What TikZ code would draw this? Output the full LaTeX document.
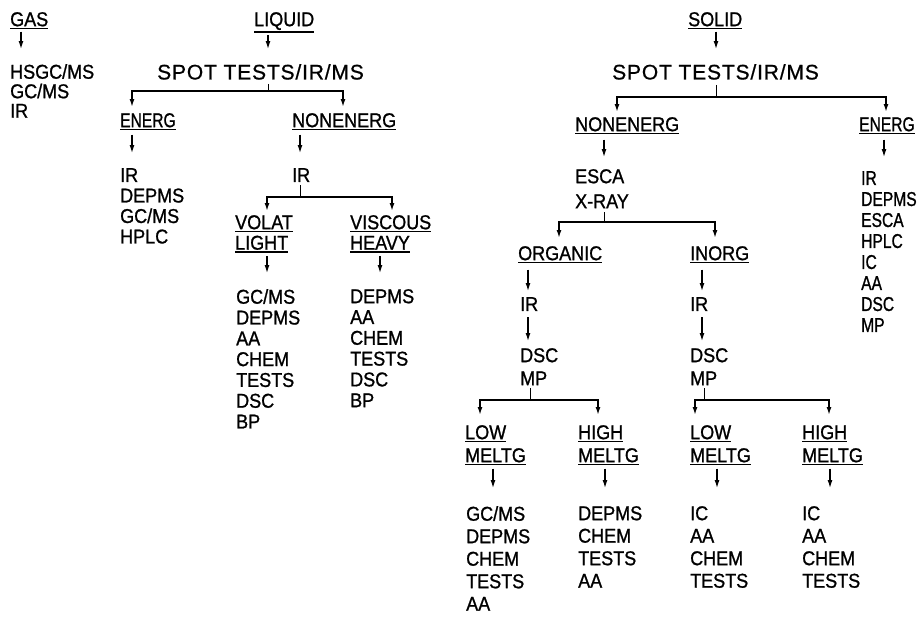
\documentclass[tikz,border=0pt]{standalone}
\usepackage{fontspec}
\setmainfont{Liberation Sans}[FakeStretch=0.9, FakeBold=1]
\newfontfamily\narrowfont{Liberation Sans}[FakeStretch=0.78, FakeBold=1]
\newfontfamily\spotfont{Liberation Sans}[LetterSpace=4, FakeBold=0.8]
\usetikzlibrary{arrows.meta, positioning, calc}
\newcommand{\uh}[1]{\leavevmode\vtop{\hbox{#1}\kern1.5pt\hrule height1.6pt}}
\tikzset{
  txt/.style={anchor=north west, inner sep=0pt, align=left,
    font=\fontsize{20}{#1}\selectfont},
  txt/.default=20.5,
  spot/.style={txt, font=\spotfont\fontsize{21}{25}\selectfont},
  arr/.style={-{Latex[length=8pt,width=5pt]}, line width=1.2pt},
  fork/.style={arr, line width=1.5pt},
  tick/.style={line width=0.9pt}
}
\begin{document}
\begin{tikzpicture}[x=1pt, y=-1pt]
  \useasboundingbox (0,0) rectangle (921,624);

  % ── Gas ──────────────────────────────────────────────────────────
  \node[txt] (gas) at (10,12) {\uh{GAS}};
  \node[txt=19.5] (gasl) at (10,64) {HSGC/MS\\GC/MS\\IR};
  \draw[arr] ([xshift=11pt,yshift=-2pt]gas.south west)
    -- ([xshift=11pt,yshift=15pt]gasl.north west);

  % ── Liquid ───────────────────────────────────────────────────────
  \coordinate (liqfork)  at (268,91);
  \coordinate (liqnfork) at (300,197);
  \node[txt] (liquid) at (254,12) {\uh{LIQUID}};
  \node[spot] (liqspot) at (157,64) {SPOT TESTS/IR/MS};
  \node[txt] (liqenerg) at (120,113) {\narrowfont\uh{ENERG}};
  \node[txt] (liqnon)   at (292,113) {\uh{NONENERG}};
  \node[txt] (liqenergl) at (120,168) {IR\\DEPMS\\GC/MS\\HPLC};
  \node[txt] (liqnonir) at (292,168) {IR};
  \node[txt] (liqvol) at (235,215) {\uh{VOLAT}\\\uh{LIGHT}};
  \node[txt] (liqvis) at (350,215) {\uh{VISCOUS}\\\uh{HEAVY}};
  \node[txt=20.8] (liqvoll) at (236,289)
    {GC/MS\\DEPMS\\AA\\CHEM\\TESTS\\DSC\\BP};
  \node[txt=20.8] (liqvisl) at (350,289)
    {DEPMS\\AA\\CHEM\\TESTS\\DSC\\BP};

  \draw[arr] ([yshift=-2pt]liquid.south -| liqfork)
    -- ([yshift=15pt]liqspot.north -| liqfork);
  \draw[tick] ([yshift=-4pt]liqspot.south -| liqfork) -- (liqfork);
  \draw[fork] (liqfork) -| ([xshift=12pt,yshift=6pt]liqenerg.north west);
  \draw[fork] (liqfork) -| ([xshift=51pt,yshift=6pt]liqnon.north west);
  \draw[arr] ([xshift=12pt,yshift=-4pt]liqenerg.south west)
    -- ([xshift=12pt,yshift=15pt]liqenergl.north west);
  \draw[arr] ([xshift=8pt,yshift=-4pt]liqnon.south west)
    -- ([xshift=8pt,yshift=15pt]liqnonir.north west);
  \draw[tick] ([yshift=-3pt]liqnonir.south -| liqnfork) -- (liqnfork);
  \draw[fork] (liqnfork) -| ([xshift=32pt,yshift=4pt]liqvol.north west);
  \draw[fork] (liqnfork) -| ([xshift=42pt,yshift=4pt]liqvis.north west);
  \draw[arr] ([xshift=32pt,yshift=-3pt]liqvol.south west)
    -- ([xshift=31pt,yshift=16pt]liqvoll.north west);
  \draw[arr] ([xshift=30pt,yshift=-3pt]liqvis.south west)
    -- ([xshift=30pt,yshift=16pt]liqvisl.north west);

  % ── Solid ────────────────────────────────────────────────────────
  \coordinate (solfork)  at (716,97);
  \coordinate (solnfork) at (604,222);
  \coordinate (orgfork)  at (530,400);
  \coordinate (inofork)  at (704,400);
  \node[txt] (solid) at (688,12) {\uh{SOLID}};
  \node[spot] (solspot) at (612,64) {SPOT TESTS/IR/MS};
  \node[txt] (solnon)   at (575,117) {\uh{NONENERG}};
  \node[txt] (solenerg) at (859,117) {\narrowfont\uh{ENERG}};
  \node[txt=25] (solesca) at (575,169) {ESCA\\X-RAY};
  \node[txt=21, font=\narrowfont\fontsize{20}{21}\selectfont] (solenergl)
    at (861,171) {IR\\DEPMS\\ESCA\\HPLC\\IC\\AA\\DSC\\MP};
  \node[txt] (solorg) at (518,246) {\uh{ORGANIC}};
  \node[txt] (solino) at (690,246) {\uh{INORG}};
  \node[txt] (orgir) at (520,297) {IR};
  \node[txt] (inoir) at (690,297) {IR};
  \node[txt=23] (orgdsc) at (520,348) {DSC\\MP};
  \node[txt=23] (inodsc) at (690,348) {DSC\\MP};
  \node[txt=23] (orglow)  at (465,425) {\uh{LOW}\\\uh{MELTG}};
  \node[txt=23] (orghigh) at (578,425) {\uh{HIGH}\\\uh{MELTG}};
  \node[txt=23] (inolow)  at (690,425) {\uh{LOW}\\\uh{MELTG}};
  \node[txt=23] (inohigh) at (802,425) {\uh{HIGH}\\\uh{MELTG}};
  \node[txt=22.5] (orglowl)  at (466,506) {GC/MS\\DEPMS\\CHEM\\TESTS\\AA};
  \node[txt=22.5] (orghighl) at (578,506) {DEPMS\\CHEM\\TESTS\\AA};
  \node[txt=22.5] (inolowl)  at (690,506) {IC\\AA\\CHEM\\TESTS};
  \node[txt=22.5] (inohighl) at (802,506) {IC\\AA\\CHEM\\TESTS};

  \draw[arr] ([yshift=-2pt]solid.south -| solfork)
    -- ([yshift=15pt]solspot.north -| solfork);
  \draw[tick] ([yshift=-5pt]solspot.south -| solfork) -- (solfork);
  \draw[fork] (solfork) -| ([xshift=42pt,yshift=5pt]solnon.north west);
  \draw[fork] (solfork) -| ([xshift=27pt,yshift=5pt]solenerg.north west);
  \draw[arr] ([xshift=29pt,yshift=-5pt]solnon.south west)
    -- ([xshift=29pt,yshift=12pt]solesca.north west);
  \draw[arr] ([xshift=25pt,yshift=-5pt]solenerg.south west)
    -- ([xshift=23pt,yshift=14pt]solenergl.north west);
  \draw[tick] ([yshift=-4pt]solesca.south -| solnfork) -- (solnfork);
  \draw[fork] (solnfork) -| ([xshift=41pt,yshift=8pt]solorg.north west);
  \draw[fork] (solnfork) -| ([xshift=25pt,yshift=8pt]solino.north west);

  % organic / inorganic chains
  \draw[arr] ([xshift=10pt,yshift=-6pt]solorg.south west)
    -- ([xshift=8pt,yshift=6pt]orgir.north west);
  \draw[arr] ([xshift=12pt,yshift=-6pt]solino.south west)
    -- ([xshift=12pt,yshift=6pt]inoir.north west);
  \draw[arr] ([xshift=8pt,yshift=-6pt]orgir.south west)
    -- ([xshift=8pt,yshift=7pt]orgdsc.north west);
  \draw[arr] ([xshift=12pt,yshift=-6pt]inoir.south west)
    -- ([xshift=12pt,yshift=7pt]inodsc.north west);
  \draw[tick] ([yshift=-3pt]orgdsc.south -| orgfork) -- (orgfork);
  \draw[tick] ([yshift=-3pt]inodsc.south -| inofork) -- (inofork);
  \draw[fork] (orgfork) -| ([xshift=15pt,yshift=10pt]orglow.north west);
  \draw[fork] (orgfork) -| ([xshift=20pt,yshift=10pt]orghigh.north west);
  \draw[fork] (inofork) -| ([xshift=5pt,yshift=10pt]inolow.north west);
  \draw[fork] (inofork) -| ([xshift=27pt,yshift=10pt]inohigh.north west);

  % melting point lists
  \draw[arr] ([xshift=28pt,yshift=-3pt]orglow.south west)
    -- ([xshift=27pt,yshift=18pt]orglowl.north west);
  \draw[arr] ([xshift=27pt,yshift=-3pt]orghigh.south west)
    -- ([xshift=27pt,yshift=18pt]orghighl.north west);
  \draw[arr] ([xshift=27pt,yshift=-3pt]inolow.south west)
    -- ([xshift=27pt,yshift=18pt]inolowl.north west);
  \draw[arr] ([xshift=28pt,yshift=-3pt]inohigh.south west)
    -- ([xshift=28pt,yshift=18pt]inohighl.north west);
\end{tikzpicture}
\end{document}
